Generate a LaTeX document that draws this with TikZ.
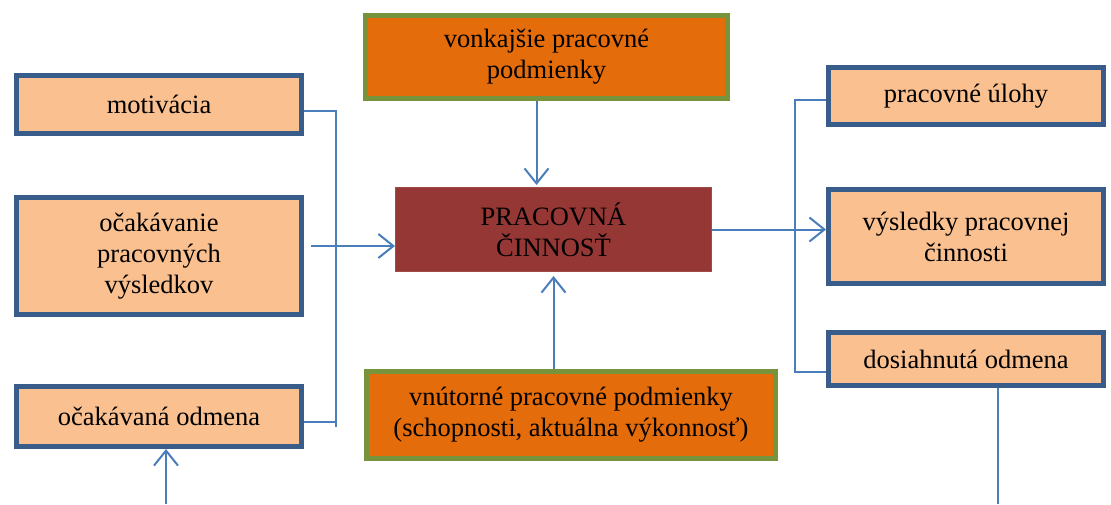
\documentclass[tikz,border=0pt]{standalone}
\usepackage{fontspec}
\setmainfont{Liberation Serif}
\usetikzlibrary{arrows.meta}
\definecolor{peach}{HTML}{FAC090}
\definecolor{boxblue}{HTML}{385D8A}
\definecolor{burnt}{HTML}{E46C0A}
\definecolor{olivegreen}{HTML}{77933C}
\definecolor{wine}{HTML}{953735}
\definecolor{linkblue}{HTML}{4A7EBB}
\begin{document}
\begin{tikzpicture}[
  x=1pt, y=-1pt,
  every node/.style={align=center, font=\fontsize{26.5}{31}\selectfont},
  factor/.style={draw=boxblue, fill=peach, line width=5pt, minimum width=285pt},
  condition/.style={draw=olivegreen, fill=burnt, line width=5pt},
  core/.style={draw=wine!90!white, fill=wine, line width=1pt, minimum width=316pt, minimum height=84pt},
  outcome/.style={draw=boxblue, fill=peach, line width=5pt, minimum width=275pt},
  link/.style={draw=linkblue, line width=2pt},
  arrow/.style={link, -{Straight Barb[length=15pt,width=24pt]}}
]
\useasboundingbox (0,0) rectangle (1111,504);
\node[factor, minimum height=58pt] (motivation) at (159,104.5) {motivácia};
\node[factor, minimum height=117pt] (expectation) at (159,256) {očakávanie\\pracovných\\výsledkov};
\node[factor, minimum height=60pt] (reward) at (159,416.5) {očakávaná odmena};
\node[condition, minimum width=362pt, minimum height=83pt] (external) at (546.5,57) {vonkajšie pracovné\\podmienky};
\node[core] (activity) at (553.5,229.5) {PRACOVNÁ\\ČINNOSŤ};
\node[condition, minimum width=409pt, minimum height=87pt] (internal) at (571,415) {vnútorné pracovné podmienky\\(schopnosti, aktuálna výkonnosť)};
\node[outcome, minimum height=57pt] (tasks) at (966,96) {pracovné úlohy};
\node[outcome, minimum height=94pt] (results) at (966,236.5) {výsledky pracovnej\\činnosti};
\node[outcome, minimum height=53pt] (achieved) at (966,359) {dosiahnutá odmena};
\coordinate (leftbar) at (336,0);
\coordinate (rightbar) at (795,0);
\coordinate (feedout) at (998,504);
\coordinate (feedin) at (166,504);
\draw[link] ([yshift=-6pt]motivation.east) -- ([yshift=-6pt]motivation.east -| leftbar) -- ([yshift=-10pt]reward.east -| leftbar);
\draw[link] ([yshift=-5pt]reward.east) -- ([yshift=-5pt]reward.east -| leftbar);
\draw[arrow, shorten <=7pt] ([yshift=10pt]expectation.east) -- ([yshift=10pt]expectation.east -| activity.west);
\draw[arrow, shorten >=2pt] ([xshift=-10pt]external.south) -- ([xshift=-10pt]external.south |- activity.north);
\draw[arrow, shorten >=4pt] (internal.north -| activity.south) -- (activity.south);
\draw[arrow] (activity.east) -- (activity.east -| results.west);
\draw[link] ([yshift=-4pt]tasks.west) -- ([yshift=-4pt]tasks.west -| rightbar) -- ([yshift=-13pt]achieved.west -| rightbar) -- ([yshift=-13pt]achieved.west);
\draw[link] (achieved.south -| feedout) -- (feedout);
\draw[arrow] (feedin) -- (feedin |- reward.south);
\end{tikzpicture}
\end{document}
